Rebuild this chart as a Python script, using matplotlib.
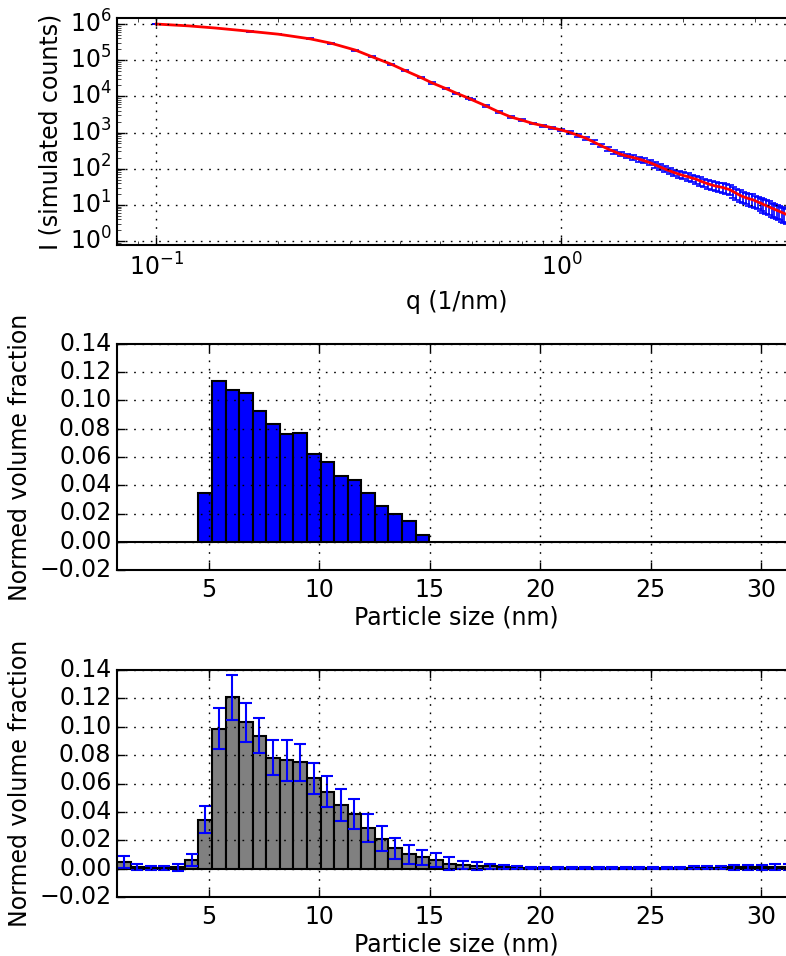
#!/usr/bin/env python3
"""
Recreate the McSAS-style fit figure: scattering curve with fit on top,
true size distribution in the middle and recovered distribution below.
"""

import numpy as np
import matplotlib
matplotlib.use('Agg')
import matplotlib.pyplot as plt
from matplotlib.ticker import NullFormatter, MultipleLocator

# --- scattering curve ---
q_nm = [0.10, 0.12, 0.14, 0.17, 0.20, 0.24, 0.27, 0.31, 0.34, 0.38,
        0.41, 0.45, 0.48, 0.52, 0.55, 0.59,
        0.60, 0.65, 0.70, 0.75, 0.80, 0.85, 0.90, 0.95, 1.00, 1.05,
        1.10, 1.15, 1.20, 1.25, 1.30, 1.35, 1.40, 1.45, 1.50, 1.55,
        1.60, 1.65, 1.70, 1.75, 1.80, 1.85, 1.90, 1.95, 2.00, 2.05,
        2.10, 2.15, 2.20, 2.25, 2.30, 2.35, 2.40, 2.45, 2.50, 2.55,
        2.60, 2.65, 2.70, 2.75, 2.80, 2.85, 2.90, 2.95, 3.00, 3.05,
        3.10, 3.15, 3.20, 3.25, 3.30, 3.35, 3.40, 3.45, 3.50, 3.55,
        3.60]
log_counts = [6.00, 5.95, 5.89, 5.80, 5.72, 5.59, 5.47, 5.28, 5.10, 4.89,
              4.72, 4.52, 4.37, 4.21, 4.09, 3.95,
              3.91, 3.74, 3.57, 3.43, 3.34, 3.25, 3.19, 3.13, 3.07, 3.00,
              2.92, 2.84, 2.74, 2.64, 2.55, 2.47, 2.40, 2.35, 2.31, 2.27,
              2.22, 2.17, 2.11, 2.05, 1.99, 1.94, 1.89, 1.85, 1.81, 1.78,
              1.74, 1.71, 1.66, 1.62, 1.58, 1.55, 1.52, 1.50, 1.48, 1.45,
              1.42, 1.37, 1.32, 1.27, 1.23, 1.20, 1.17, 1.15, 1.12, 1.08,
              1.05, 1.01, 0.98, 0.95, 0.91, 0.88, 0.85, 0.82, 0.79, 0.76,
              0.73]
rel_error = [0.02, 0.02, 0.02, 0.02, 0.02, 0.03, 0.03, 0.03, 0.03, 0.03,
             0.03, 0.04, 0.04, 0.04, 0.04, 0.04,
             0.04, 0.05, 0.05, 0.05, 0.06, 0.06, 0.06, 0.07, 0.07, 0.08,
             0.09, 0.10, 0.10, 0.11, 0.12, 0.13, 0.13, 0.14, 0.15, 0.16,
             0.16, 0.17, 0.18, 0.19, 0.19, 0.20, 0.21, 0.22, 0.22, 0.23,
             0.24, 0.25, 0.25, 0.26, 0.27, 0.28, 0.28, 0.29, 0.30, 0.31,
             0.31, 0.32, 0.33, 0.34, 0.34, 0.35, 0.36, 0.37, 0.37, 0.38,
             0.39, 0.40, 0.40, 0.41, 0.42, 0.43, 0.43, 0.44, 0.45, 0.46,
             0.46]

# --- size distributions, 50 linear bins ---
size_min, size_max, n_bins = 0.855, 31.555, 50

# input distribution: only bins 7..23 are populated
true_fraction = [0.0] * 6 + [
    0.0346, 0.1140, 0.1077, 0.1055, 0.0928, 0.0832, 0.0761, 0.0768,
    0.0624, 0.0563, 0.0462, 0.0436, 0.0342, 0.0254, 0.0198, 0.0144,
    0.0047] + [0.0] * 27

fit_fraction = [
    0.0047, 0.0012, 0.0006, 0.0006, 0.0010, 0.0064, 0.0345, 0.0987,
    0.1207, 0.1032, 0.0937, 0.0782, 0.0765, 0.0751, 0.0638, 0.0543,
    0.0446, 0.0385, 0.0288, 0.0210, 0.0142, 0.0102, 0.0080, 0.0060,
    0.0036, 0.0024, 0.0020, 0.0015, 0.0010, 0.0007, 0.0005, 0.0004,
    0.0003, 0.0002, 0.0002, 0.0002, 0.0002, 0.0002, 0.0002, 0.0003,
    0.0003, 0.0004, 0.0005, 0.0006, 0.0007, 0.0008, 0.0010, 0.0011,
    0.0012, 0.0014]
fit_error = [
    0.0040, 0.0022, 0.0015, 0.0015, 0.0024, 0.0042, 0.0093, 0.0142,
    0.0156, 0.0138, 0.0122, 0.0125, 0.0145, 0.0130, 0.0110, 0.0110,
    0.0112, 0.0105, 0.0099, 0.0088, 0.0073, 0.0068, 0.0052, 0.0049,
    0.0043, 0.0030, 0.0030, 0.0020, 0.0016, 0.0010, 0.0009, 0.0008,
    0.0007, 0.0006, 0.0006, 0.0006, 0.0006, 0.0006, 0.0006, 0.0007,
    0.0008, 0.0009, 0.0010, 0.0012, 0.0013, 0.0015, 0.0017, 0.0018,
    0.0020, 0.0022]

plt.style.use('classic')
plt.rcParams.update({
    'font.family': 'DejaVu Sans',
    'font.size': 17,
    'axes.linewidth': 1.5,
    'xtick.major.size': 6, 'ytick.major.size': 6,
    'xtick.minor.size': 3, 'ytick.minor.size': 3,
    'xtick.major.width': 1.0, 'ytick.major.width': 1.0,
    'xtick.major.pad': 6, 'ytick.major.pad': 4,
    'figure.facecolor': 'white',
    'savefig.facecolor': 'white',
})

GRID = dict(color='k', linestyle=(0, (1.2, 4.8)), linewidth=1.0)

fig = plt.figure(figsize=(7.86, 9.56), dpi=100)
left, width = 117 / 786, (795.5 - 117) / 786
ax_q = fig.add_axes([left, 1 - 245 / 956, width, 227 / 956])
ax_true = fig.add_axes([left, 1 - 570 / 956, width, 226 / 956])
ax_fit = fig.add_axes([left, 1 - 897 / 956, width, 227 / 956])

# top: simulated data with error bars and the fit
q = np.array(q_nm)
counts = 10 ** np.array(log_counts)
err = counts * np.array(rel_error)
ax_q.errorbar(q, counts, yerr=err, fmt='none', ecolor='b',
              elinewidth=1.2, capsize=3, capthick=1.2)
ax_q.plot(q, counts, 'r-', linewidth=2)
ax_q.set_xscale('log')
ax_q.set_yscale('log')
ax_q.set_xlim(0.080, 3.78)
ax_q.set_ylim(0.776, 1.47e6)
ax_q.xaxis.set_minor_formatter(NullFormatter())
ax_q.yaxis.set_minor_formatter(NullFormatter())
ax_q.grid(True, which='major', **GRID)
ax_q.set_xlabel('q (1/nm)', labelpad=7)
ax_q.set_ylabel('I (simulated counts)')

# size distributions
edges = np.linspace(size_min, size_max, n_bins + 1)
centres = 0.5 * (edges[:-1] + edges[1:])
bin_w = edges[1] - edges[0]

ax_true.bar(centres, true_fraction, width=bin_w, align='center',
            color='b', edgecolor='k', linewidth=1.5)

ax_fit.bar(centres, fit_fraction, width=bin_w, align='center',
           color='0.5', edgecolor='k', linewidth=1.5)
ax_fit.errorbar(centres, fit_fraction, yerr=fit_error, fmt='none',
                ecolor='b', elinewidth=1.5, capsize=4, capthick=1.5)

for ax in (ax_true, ax_fit):
    ax.set_xlim(size_min, size_max)
    ax.set_ylim(-0.02, 0.14)
    ax.xaxis.set_major_locator(MultipleLocator(5))
    ax.yaxis.set_major_locator(MultipleLocator(0.02))
    ax.grid(True, **GRID)
    ax.set_axisbelow(False)
    ax.set_xlabel('Particle size (nm)', labelpad=2)
    ax.set_ylabel('Normed volume fraction')

fig.savefig('out.png', dpi=100)
